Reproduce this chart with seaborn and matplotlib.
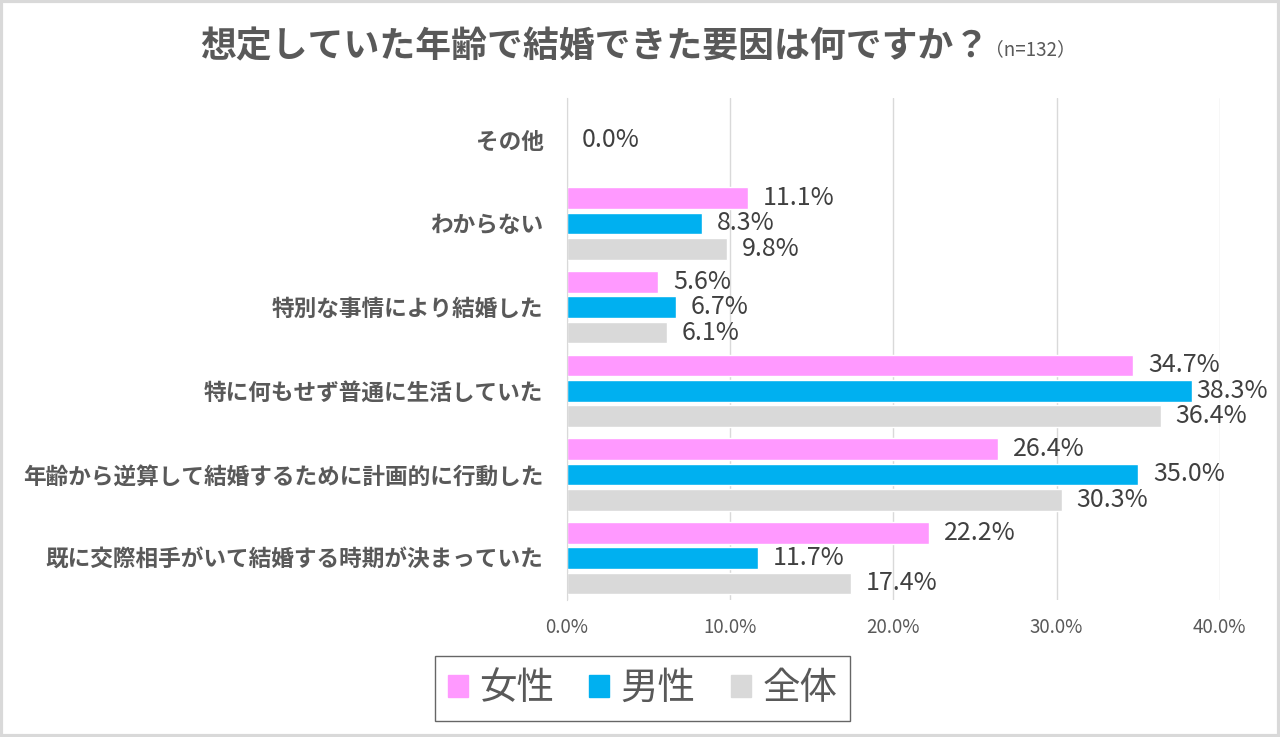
import pandas as pd
import seaborn as sns
import matplotlib.pyplot as plt
from matplotlib.patches import Rectangle

categories = ['その他', 'わからない', '特別な事情により結婚した', '特に何もせず普通に生活していた',
              '年齢から逆算して結婚するために計画的に行動した', '既に交際相手がいて結婚する時期が決まっていた']
female = [0.0, 11.1, 5.6, 34.7, 26.4, 22.2]
male = [0.0, 8.3, 6.7, 38.3, 35.0, 11.7]
total = [0.0, 9.8, 6.1, 36.4, 30.3, 17.4]
groups = ['女性', '男性', '全体']
colors = ['#FF99FF', '#00B0F0', '#D9D9D9']

rows = []
for g, vals in zip(groups, [female, male, total]):
    for c, v in zip(categories, vals):
        rows.append({'cat': c, 'grp': g, 'val': v})
df = pd.DataFrame(rows)

sns.set_style('white')
plt.rcParams['font.family'] = ['Noto Sans CJK JP', 'DejaVu Sans']
txt = '#595959'

fig = plt.figure(figsize=(12.8, 7.37), dpi=100)
ax = fig.add_axes([0.443, 0.186, 0.51, 0.681])
sns.barplot(data=df, y='cat', x='val', hue='grp', order=categories, hue_order=groups,
            palette=colors, orient='h', width=0.91, gap=0.14, saturation=1, ax=ax,
            legend=False, err_kws={'linewidth': 0})

ax.set_xlim(0, 40)
ax.set_xticks([0, 10, 20, 30, 40])
ax.set_xticklabels([f'{t:.1f}%' for t in [0, 10, 20, 30, 40]], fontsize=13.5, color=txt)
ax.tick_params(axis='x', length=0, pad=12)
ax.tick_params(axis='y', length=0, pad=17)
for lab in ax.get_yticklabels():
    lab.set_fontsize(16.3)
    lab.set_fontweight('bold')
    lab.set_color(txt)
ax.set_xlabel('')
ax.set_ylabel('')
ax.grid(axis='x', color='#D9D9D9', linewidth=1)
ax.set_axisbelow(True)
for s in ['top', 'right', 'bottom']:
    ax.spines[s].set_visible(False)
ax.spines['left'].set_color('#D9D9D9')

labels = []
for gi, cont in enumerate(ax.containers):
    for bar, v in zip(cont, [female, male, total][gi]):
        if v == 0 and gi != 1:
            continue
        y = bar.get_y() + bar.get_height() / 2
        labels.append(ax.text(bar.get_width() + 0.9, y, f'{v:.1f}%', va='center', ha='left',
                              fontsize=18, color='#404040'))

# title
t1 = fig.text(200 / 1280, 0.936, '想定していた年齢で結婚できた要因は何ですか？', fontsize=25.8,
              fontweight='bold', color=txt, ha='left', va='center')
fig.canvas.draw()
bb = t1.get_window_extent()
fig.text((bb.x1 - 4) / 1280, 0.933, '（n=132）', fontsize=13.5, color=txt,
         ha='left', va='center')

# keep labels inside the figure like excel does
inv = ax.transData.inverted()
for t in labels:
    e = t.get_window_extent()
    if e.x1 > 1268:
        dx = inv.transform((e.x1, 0))[0] - inv.transform((1268, 0))[0]
        t.set_x(t.get_position()[0] - dx)

# legend
handles = [Rectangle((0, 0), 1, 1, color=c) for c in colors]
leg = fig.legend(handles, groups, loc='center', bbox_to_anchor=(0.502, 0.066), ncol=3,
                 fontsize=27, frameon=True, fancybox=False, handlelength=0.53,
                 handleheight=0.53, handletextpad=0.3, columnspacing=0.95, borderpad=0.35)
leg.get_frame().set_edgecolor('#404040')
leg.get_frame().set_linewidth(1)
for t in leg.get_texts():
    t.set_color(txt)

fig.patches.append(Rectangle((0.001, 0.001), 0.998, 0.997, transform=fig.transFigure,
                             fill=False, edgecolor='#D9D9D9', linewidth=3))

fig.savefig('out.png', dpi=100)
